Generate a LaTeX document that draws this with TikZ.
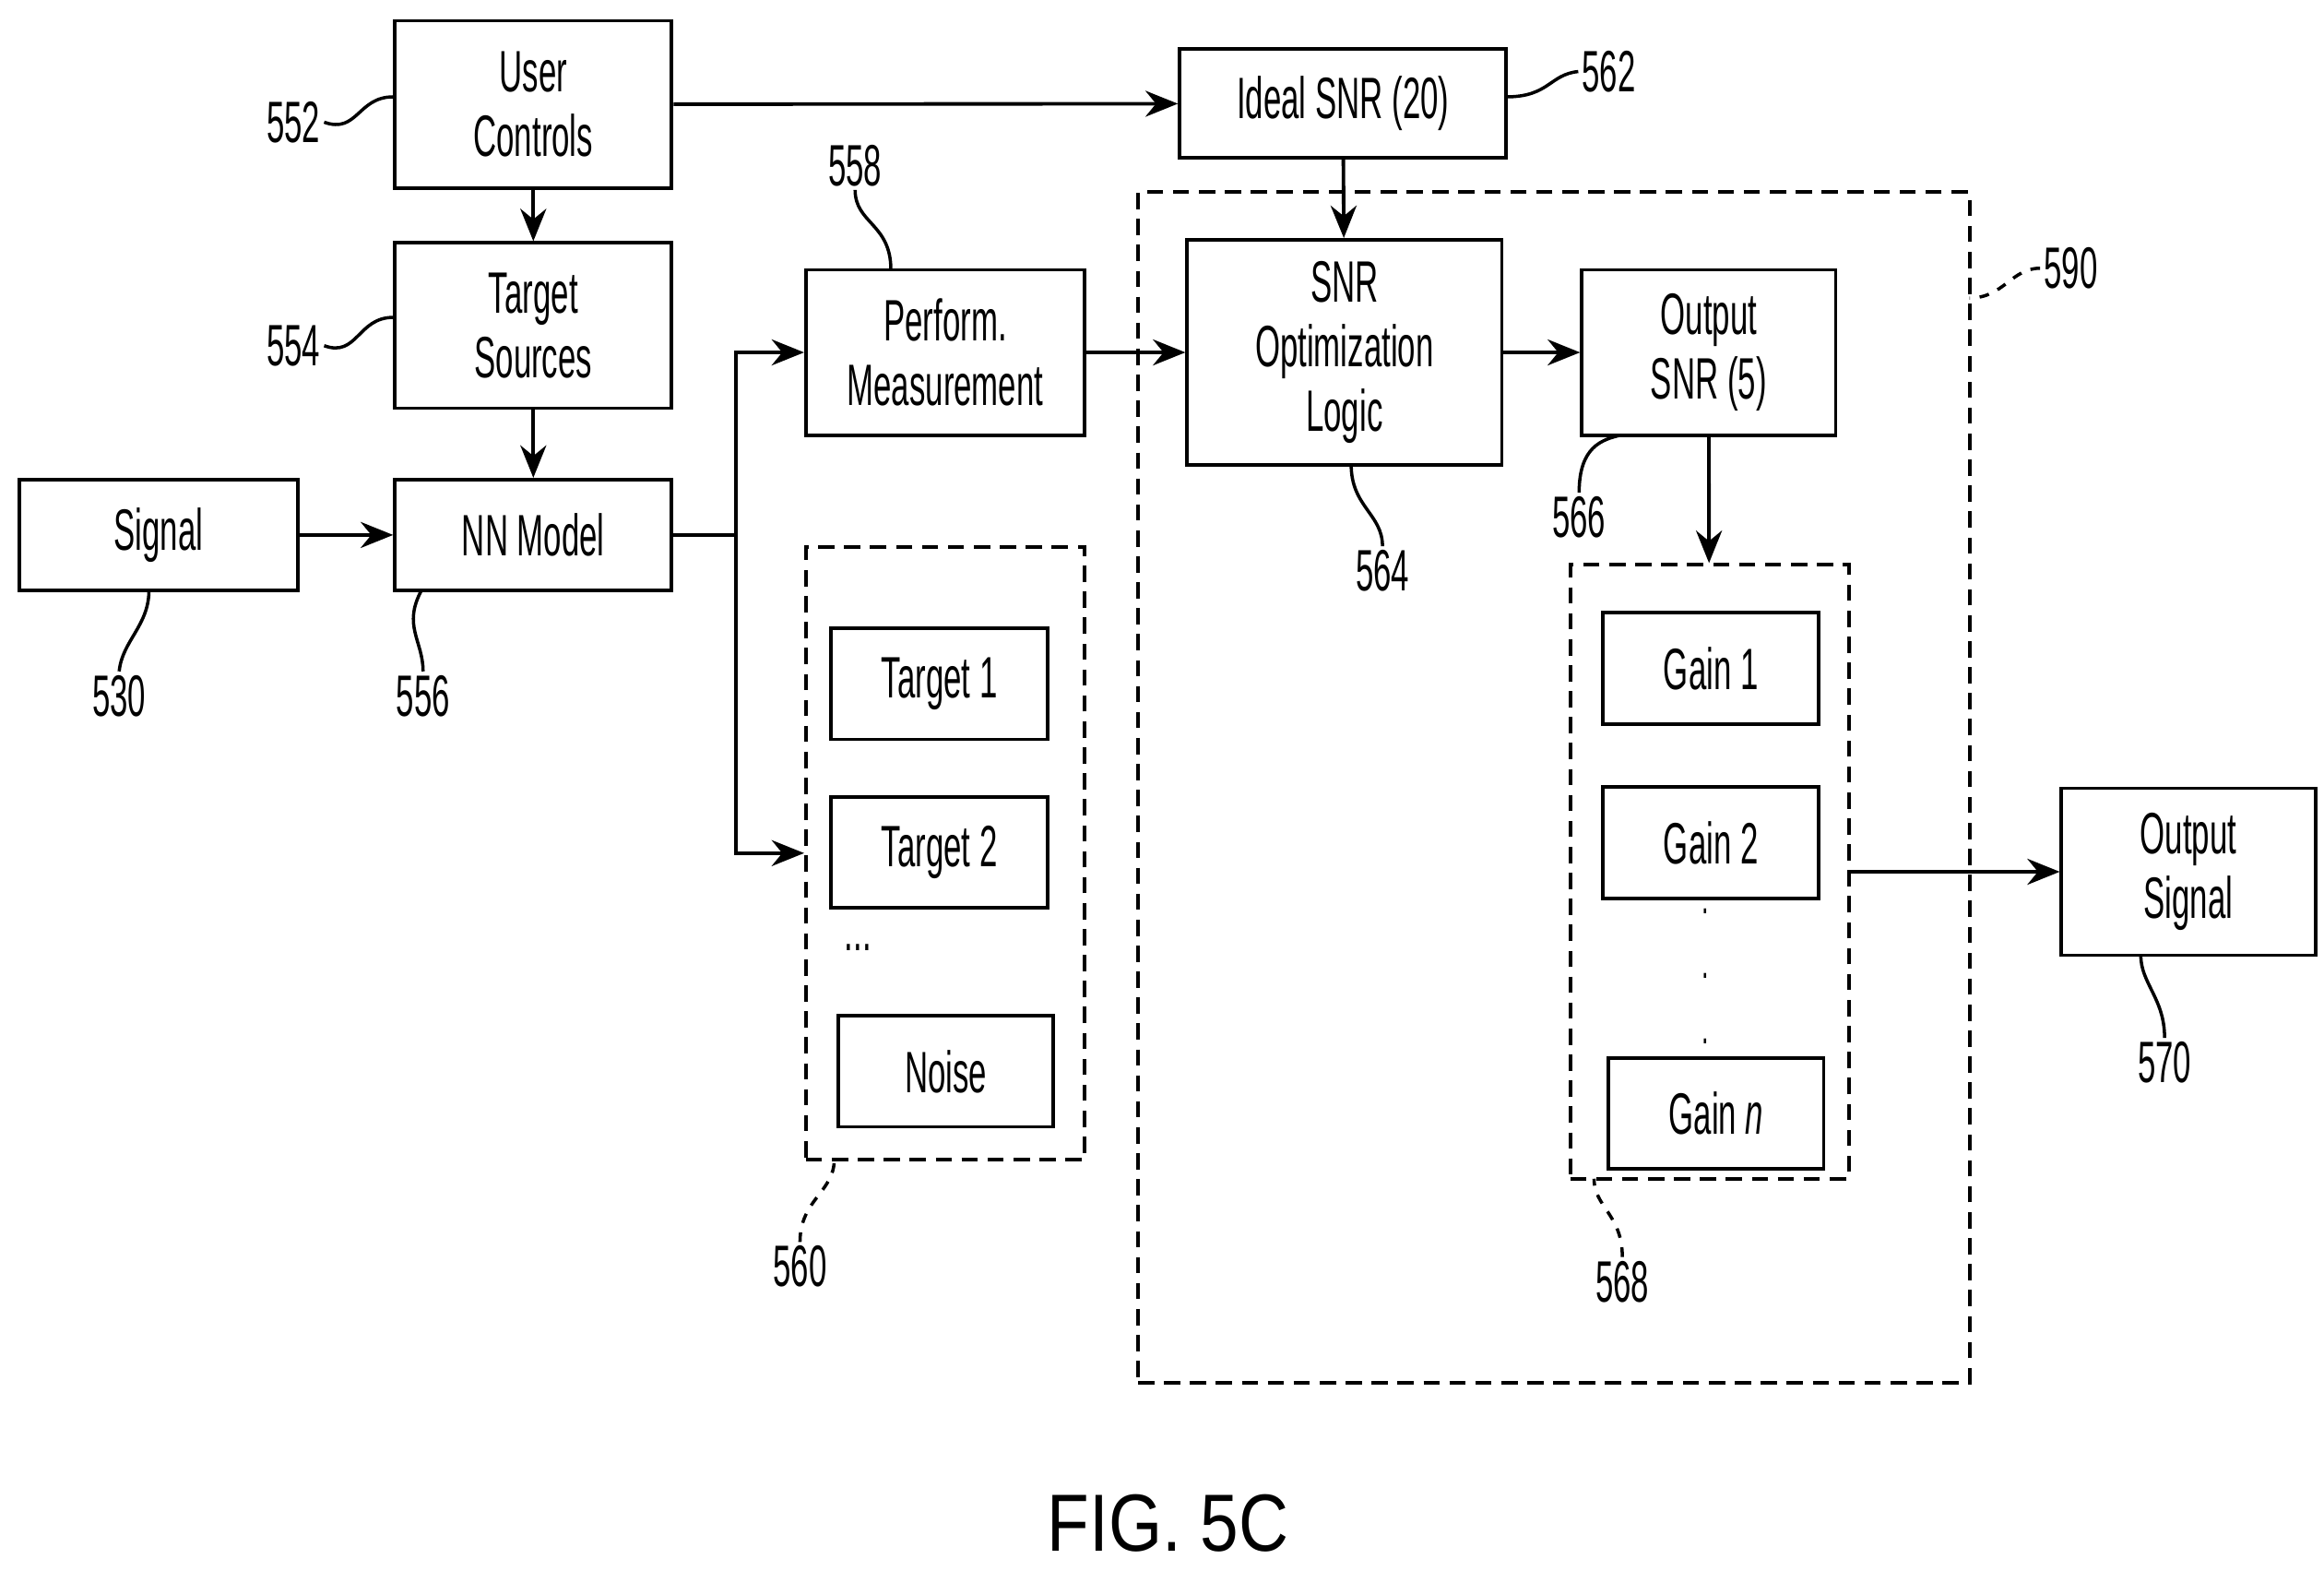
\documentclass[tikz,border=0pt]{standalone}
\usepackage{fontspec}
\setmainfont{Liberation Sans}[FakeStretch=0.55]
\newfontfamily\figfont{Liberation Sans}[FakeStretch=0.85]
\usetikzlibrary{positioning}
\usetikzlibrary{arrows.meta}

\begin{document}
\begin{tikzpicture}[x=0.01615cm,y=-0.01615cm,
  font=\fontsize{18}{20}\selectfont,
  blk/.style={draw, line width=1.1pt, align=center, inner sep=0pt},
  grp/.style={draw, line width=1.1pt, dashed, dash pattern=on 5pt off 3pt, inner sep=0pt},
  flow/.style={line width=1.1pt, -{Stealth[length=10pt,width=8pt]}},
  lead/.style={line width=1pt},
  num/.style={inner sep=1pt}]
\useasboundingbox (0,0) rectangle (1560,1054);

%containers
\node[grp, minimum width=9.01cm, minimum height=12.90cm] (opt) at (1043,528.5) {};
\node[grp, minimum width=3.02cm, minimum height=6.64cm] (srcs) at (634.5,572.5) {};
\node[grp, minimum width=3.02cm, minimum height=6.65cm] (gains) at (1147.5,585) {};

%blocks
\node[blk, minimum width=3.00cm, minimum height=1.81cm] (user) at (358,70) {User\\Controls};
\node[blk, minimum width=3.54cm, minimum height=1.18cm] (ideal) at (901.5,69.5) {Ideal SNR (20)};
\node[blk, minimum width=3.00cm, minimum height=1.79cm] (tsrc) at (358,218.5) {Target\\Sources};
\node[blk, minimum width=3.02cm, minimum height=1.79cm] (perf) at (634.5,236.5) {Perform.\\Measurement};
\node[blk, minimum width=3.41cm, minimum height=2.44cm] (snr) at (902.5,236.5) {SNR\\Optimization\\Logic};
\node[blk, minimum width=2.75cm, minimum height=1.79cm] (osnr) at (1147,236.5) {Output\\SNR (5)};
\node[blk, minimum width=3.02cm, minimum height=1.20cm] (sig) at (106.5,359) {Signal};
\node[blk, minimum width=3.00cm, minimum height=1.20cm] (nn) at (358,359) {NN Model};
\node[blk, minimum width=2.34cm, minimum height=1.20cm] (t1) at (630.5,459) {Target 1};
\node[blk, minimum width=2.34cm, minimum height=1.20cm] (t2) at (630.5,572) {Target 2};
\node (dots) at (576,636) {...};
\node[blk, minimum width=2.33cm, minimum height=1.20cm] (noise) at (635,719) {Noise};
\node[blk, minimum width=2.34cm, minimum height=1.21cm] (g1) at (1148.5,448.5) {Gain 1};
\node[blk, minimum width=2.34cm, minimum height=1.21cm] (g2) at (1148.5,565.5) {Gain 2};
\node[align=center, font=\fontsize{14}{16}\selectfont] (vdots) at (1145,655) {.\\[4pt].\\[4pt].};
\node[blk, minimum width=2.33cm, minimum height=1.20cm] (gn) at (1152,747) {Gain \textit{n}};
\node[blk, minimum width=2.75cm, minimum height=1.81cm] (out) at (1469,585) {Output\\Signal};

%connectors
\coordinate (split) at (494,359);
\draw[flow] (user) -- (ideal);
\draw[flow] (user) -- (tsrc);
\draw[flow] (tsrc) -- (nn);
\draw[flow] (sig) -- (nn);
\draw[line width=1.1pt] (nn) -- (split);
\draw[flow] (split) |- (perf);
\draw[flow] (split) |- (srcs.west);
\draw[flow] (perf) -- (snr);
\draw[flow] (ideal) -- (snr);
\draw[flow] (snr) -- (osnr);
\draw[flow] (osnr) -- (gains);
\draw[flow] (gains) -- (out);

%reference numerals
\node[num] (n552) at (197,82) {552};
\draw[lead] (n552.east) .. controls (240,90) and (240,65) .. (user.west |- 0,65);
\node[num] (n554) at (197,232) {554};
\draw[lead] (n554.east) .. controls (240,240) and (240,213) .. (tsrc.west |- 0,213);
\node[num] (n530) at (80,467) {530};
\draw[lead] (n530.north) .. controls (82,430) and (100,420) .. (100,396);
\node[num] (n556) at (284,467) {556};
\draw[lead] (n556.north) .. controls (284,430) and (270,420) .. (283,396);
\node[num] (n558) at (574,111) {558};
\draw[lead] (n558.south) .. controls (574,150) and (598,150) .. (598,181);
\node[num] (n562) at (1080,48) {562};
\draw[lead] (n562.west) .. controls (1040,50) and (1040,65) .. (1011,65);
\node[num] (n590) at (1390,180) {590};
\draw[lead, dashed] (n590.west) .. controls (1350,180) and (1345,200) .. (1322,200);
\node[num] (n564) at (928,383) {564};
\draw[lead] (n564.north) .. controls (928,345) and (907,340) .. (907,312);
\node[num] (n566) at (1060,347) {566};
\draw[lead] (n566.north) .. controls (1060,300) and (1075,295) .. (1088,292);
\node[num] (n560) at (537,850) {560};
\draw[lead, dashed] (n560.north) .. controls (537,805) and (560,800) .. (560,778);
\node[num] (n568) at (1089,860) {568};
\draw[lead, dashed] (n568.north) .. controls (1089,815) and (1070,810) .. (1070,791);
\node[num] (n570) at (1453,713) {570};
\draw[lead] (n570.north) .. controls (1453,670) and (1437,660) .. (1437,641);

\node[font=\figfont\fontsize{25}{28}\selectfont] (fig) at (784,1022) {FIG. 5C};
\end{tikzpicture}
\end{document}
